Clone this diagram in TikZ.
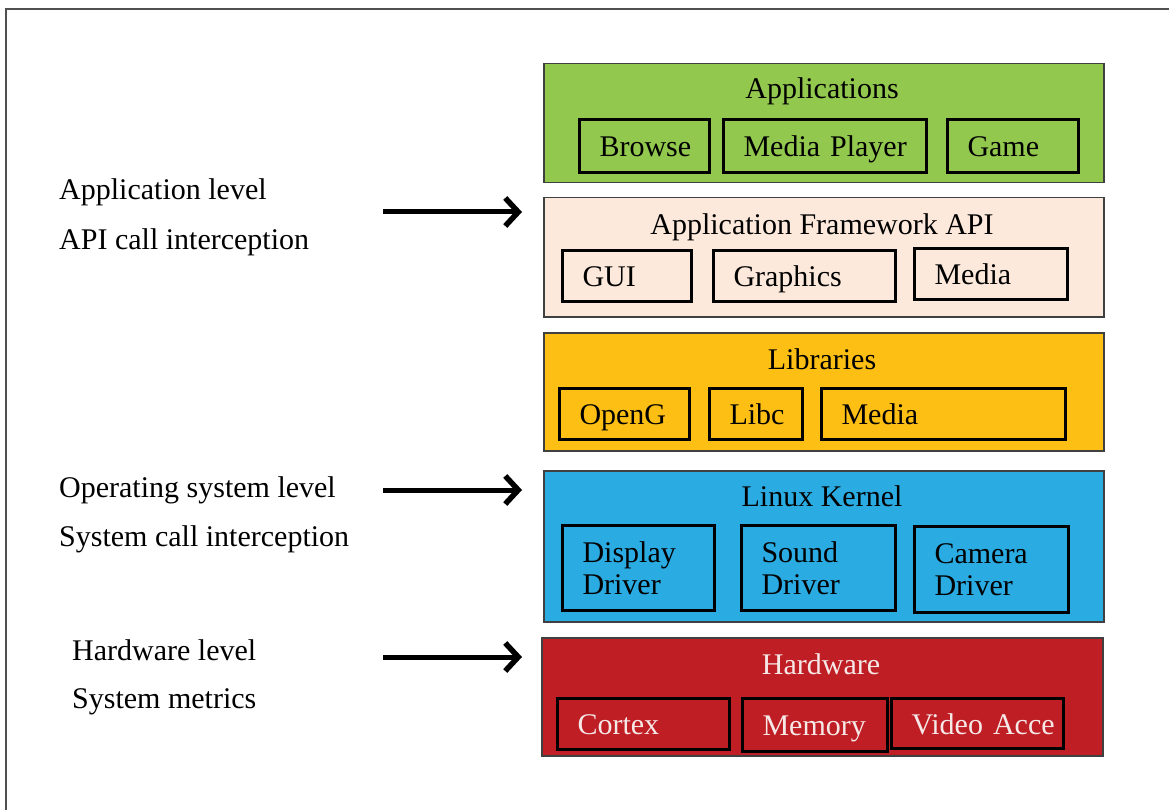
\documentclass[tikz,border=0pt]{standalone}
\usepackage{fontspec}
\setmainfont{Liberation Serif}
\usetikzlibrary{arrows.meta}
\definecolor{appgreen}{HTML}{92C84E}
\definecolor{fwpeach}{HTML}{FCE9DB}
\definecolor{libgold}{HTML}{FDBF13}
\definecolor{kernblue}{HTML}{2AABE2}
\definecolor{hwred}{HTML}{BE1E24}
\definecolor{hwtext}{HTML}{F7E8E8}
\definecolor{framegray}{HTML}{505050}
\definecolor{layerborder}{HTML}{404040}
\tikzset{
  txt/.style={font=\fontsize{30}{32}\selectfont},
  layer/.style={draw=layerborder, line width=1.5pt, anchor=north west, inner sep=0pt},
  layertitle/.style={txt, inner sep=0pt, anchor=base},
  sub/.style={txt, draw=black, line width=3pt, anchor=north west, inner xsep=20pt, inner ysep=0pt, align=left},
  oneline/.style={text height=23pt, text depth=2pt},
  sidetext/.style={txt, anchor=base west, inner sep=0pt},
  levelarrow/.style={line width=5pt, -{Straight Barb[length=13pt, width=28pt, line width=5.5pt]}},
}
\begin{document}
\begin{tikzpicture}[x=1pt, y=-1pt]
\useasboundingbox (0,0) rectangle (1169,810);
% frame
\draw[framegray, line width=2pt] (6,810) -- (6,9) -- (1169,9);

% Applications
\node[layer, fill=appgreen, minimum width=560pt, minimum height=119pt] (apps) at (543,63) {};
\node[layertitle] (appsT) at (822,99) {Applications};
\node[sub, oneline, minimum width=130pt, minimum height=53pt, text width=90pt] (browse) at (578,118) {Browse};
\node[sub, oneline, minimum width=203pt, minimum height=53pt, text width=163pt] (mplayer) at (722,118) {\mbox{Media Player}};
\node[sub, oneline, minimum width=131pt, minimum height=53pt, text width=91pt] (game) at (946,118) {Game};

% Application Framework API
\node[layer, fill=fwpeach, minimum width=560pt, minimum height=119pt] (fw) at (543,197) {};
\node[layertitle] (fwT) at (822,235) {Application Framework API};
\node[sub, oneline, minimum width=129pt, minimum height=51pt, text width=89pt] (gui) at (561,249) {GUI};
\node[sub, oneline, minimum width=182pt, minimum height=51pt, text width=142pt] (graphics) at (712,249) {Graphics};
\node[sub, oneline, minimum width=153pt, minimum height=51pt, text width=113pt] (fmedia) at (913,247) {Media};

% Libraries
\node[layer, fill=libgold, minimum width=560pt, minimum height=118pt] (libs) at (543,332) {};
\node[layertitle] (libsT) at (822,369) {Libraries};
\node[sub, oneline, minimum width=130pt, minimum height=51pt, text width=90pt] (openg) at (558,387) {OpenG};
\node[sub, oneline, minimum width=93pt, minimum height=51pt, text width=53pt] (libc) at (708,387) {Libc};
\node[sub, oneline, minimum width=244pt, minimum height=51pt, text width=204pt] (lmedia) at (820,387) {Media};

% Linux Kernel
\node[layer, fill=kernblue, minimum width=560pt, minimum height=151pt] (kern) at (543,470) {};
\node[layertitle] (kernT) at (822,506) {Linux Kernel};
\node[sub, minimum width=152pt, minimum height=85pt, text width=112pt] (display) at (561,524) {Display\\Driver};
\node[sub, minimum width=154pt, minimum height=85pt, text width=114pt] (sound) at (740,524) {Sound\\Driver};
\node[sub, minimum width=154pt, minimum height=86pt, text width=114pt] (camera) at (913,525) {Camera\\Driver};

% Hardware
\node[layer, fill=hwred, minimum width=561pt, minimum height=118pt] (hw) at (541,637) {};
\node[layertitle, text=hwtext] (hwT) at (821,674) {Hardware};
\node[sub, oneline, text=hwtext, minimum width=172pt, minimum height=51pt, text width=132pt] (cortex) at (556,697) {Cortex};
\node[sub, oneline, text=hwtext, minimum width=145pt, minimum height=53pt, text width=105pt] (memory) at (741,697) {Memory};
\node[sub, oneline, text=hwtext, minimum width=172pt, minimum height=50pt, text width=132pt] (video) at (890,697) {\mbox{Video Acce}};

% side labels
\node[sidetext] (l1a) at (59,200) {Application level};
\node[sidetext] (l1b) at (59,250) {API call interception};
\node[sidetext] (l2a) at (59,497) {Operating system level};
\node[sidetext] (l2b) at (59,546) {System call interception};
\node[sidetext] (l3a) at (72,660) {Hardware level};
\node[sidetext] (l3b) at (72,708) {System metrics};

% arrows
\coordinate (a1s) at (383,212);
\coordinate (a1e) at (522,212);
\coordinate (a2s) at (383,490);
\coordinate (a2e) at (522,490);
\coordinate (a3s) at (383,657);
\coordinate (a3e) at (522,657);
\draw[levelarrow] (a1s) -- (a1e);
\draw[levelarrow] (a2s) -- (a2e);
\draw[levelarrow] (a3s) -- (a3e);
\end{tikzpicture}
\end{document}
